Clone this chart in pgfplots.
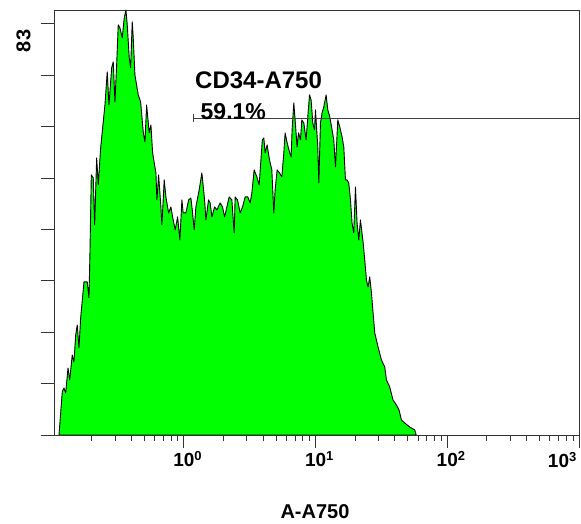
\documentclass[border=0pt]{standalone}
\usepackage{fontspec}
\setmainfont{Liberation Sans}
\usepackage{pgfplots}
\pgfplotsset{compat=1.18}

% tick label: "10" centred on the tick, exponent hanging to the right
\newcommand{\dec}[1]{\llap{1}\rlap{0\raisebox{6pt}{\fontsize{13}{13}\selectfont #1}}}

\begin{document}
\begin{tikzpicture}
\useasboundingbox (-54pt,-89pt) rectangle (527pt,435pt);
\begin{axis}[
  at={(0,0)}, anchor=south west,
  scale only axis, width=525pt, height=425pt,
  xmode=log, xmin=0.1032, xmax=1000,
  ymin=0, ymax=85.8,
  axis line style={black!80, line width=0.9pt},
  tick align=outside, tick pos=left,
  major tick length=13pt, minor tick length=6pt,
  every tick/.style={black!80, line width=0.9pt},
  xtick={1,10,100,1000},
  xticklabels={\dec{0},\dec{1},\dec{2},{}},
  minor xtick={0.2,0.3,0.4,0.5,0.6,0.7,0.8,0.9,2,3,4,5,6,7,8,9,20,30,40,50,60,70,80,90,200,300,400,500,600,700,800,900},
  ytick={0,10.375,20.75,31.125,41.5,51.875,62.25,72.625,83},
  yticklabels={},
  ticklabel style={font=\bfseries\fontsize{19}{19}\selectfont},
  clip=true,
]
\addplot[fill={rgb,255:red,0;green,255;blue,0}, draw=black, line width=0.9pt, line join=round] coordinates {
(0.1126,0)(0.1193,8.74)(0.1229,9.49)(0.1266,8.48)(0.1318,13.53)(0.1358,11.11)
(0.1420,16.16)(0.1463,14.74)(0.1508,20.2)(0.1550,22.21)(0.1597,17.57)(0.1645,23.63)
(0.1743,30.9)(0.1846,30.9)(0.1902,27.67)(0.1936,36.96)(0.1981,52.51)(0.2050,51.9)
(0.2101,42.41)(0.2176,55.94)(0.2238,50.49)(0.2333,57.96)(0.2442,63.21)(0.2515,66.64)
(0.2618,73.31)(0.2698,66.64)(0.2828,74.12)(0.2908,75.33)(0.2996,67.25)(0.3086,74.72)
(0.3173,82.8)(0.3269,82.19)(0.3403,80.17)(0.3524,84.21)(0.3630,85.8)(0.3714,82.8)
(0.3846,76.14)(0.3941,74.12)(0.4052,83.41)(0.4124,80.17)(0.4248,72.7)(0.4501,68.66)
(0.4694,67.25)(0.4912,61.19)(0.5060,59.17)(0.5212,66.64)(0.5454,60.99)(0.5618,62.6)
(0.5788,56.95)(0.6132,52.91)(0.6239,47.46)(0.6427,52.51)(0.6691,46.04)(0.6809,42.41)
(0.7088,51.5)(0.7302,48.06)(0.7655,44.83)(0.7969,46.04)(0.8209,44.03)(0.8590,41.4)
(0.8958,44.03)(0.9326,39.38)(0.9656,47.46)(0.9879,44.83)(1.0356,44.83)(1.0857,47.46)
(1.130,47.86)(1.164,44.83)(1.197,41.4)(1.233,46.04)(1.306,49.48)(1.369,52.91)
(1.436,47.46)(1.469,43.42)(1.539,47.46)(1.583,46.85)(1.631,44.03)(1.710,46.04)
(1.780,45.44)(1.885,46.85)(1.966,46.04)(2.036,44.03)(2.120,46.04)(2.207,48.06)
(2.313,47.46)(2.408,40.79)(2.450,48.06)(2.555,47.46)(2.674,44.83)(2.788,46.04)
(2.918,48.06)(3.059,48.06)(3.184,46.85)(3.281,48.87)(3.415,53.52)(3.580,52.1)
(3.727,50.49)(3.859,56.14)(3.941,59.58)(4.046,59.98)(4.139,56.95)(4.285,58.57)
(4.469,55.54)(4.652,53.52)(4.818,44.83)(4.928,49.48)(5.104,53.52)(5.322,52.91)
(5.541,52.1)(5.738,56.95)(5.870,60.99)(6.079,58.97)(6.339,57.15)(6.518,56.14)
(6.633,61.59)(6.833,67.05)(6.991,63.61)(7.239,58.16)(7.418,60.99)(7.682,59.58)
(7.858,63.61)(8.138,63.01)(8.471,59.58)(8.726,64.22)(8.990,68.66)(9.245,67.65)
(9.524,63.01)(9.811,61.59)(9.98,65.63)(10.39,58.16)(10.58,50.89)(10.89,63.01)
(11.20,65.03)(11.54,66.24)(12.02,68.66)(12.38,65.63)(12.82,64.22)(13.34,61.59)
(13.74,59.58)(14.16,54.12)(14.74,63.61)(15.26,62.2)(15.89,60.18)(16.37,58.16)
(16.86,51.5)(17.34,51.5)(17.86,50.89)(18.40,47.46)(18.92,42.81)(19.49,40.79)
(20.08,50.08)(20.65,42.81)(21.27,39.38)(21.91,43.42)(22.93,38.98)(23.62,35.34)
(24.33,31.3)(25.02,29.89)(25.77,31.91)(26.56,28.68)(27.32,24.64)(28.14,20.6)
(29.81,17.77)(31.62,15.15)(33.50,13.73)(34.51,11.11)(36.56,9.69)(38.73,7.07)
(41.10,6.06)(43.01,5.05)(44.86,3.03)(47.53,2.42)(51.84,1.62)(56.58,1.01)(58.08,0)
} \closedcycle;
% gate
\addplot[black!75, line width=0.9pt] coordinates {(1.19,64.0)(1000,64.0)};
\addplot[black!75, line width=0.9pt] coordinates {(1.19,63.1)(1.19,64.9)};
\end{axis}
\node[anchor=base west, inner sep=0pt, font=\bfseries\fontsize{24}{24}\selectfont] at (141pt,346pt) {CD34-A750};
\node[anchor=base west, inner sep=0pt, font=\bfseries\fontsize{23}{23}\selectfont] at (146.5pt,315.5pt) {59.1\%};
\node[rotate=90, inner sep=0pt, font=\bfseries\fontsize{20}{20}\selectfont] at (-30.5pt,394pt) {83};
\node[anchor=base, inner sep=0pt, font=\bfseries\fontsize{19}{19}\selectfont] at (504.5pt,-33pt) {\dec{3}};
\node[anchor=base, inner sep=0pt, font=\bfseries\fontsize{20}{20}\selectfont] at (261pt,-84pt) {A-A750};
\end{tikzpicture}
\end{document}
